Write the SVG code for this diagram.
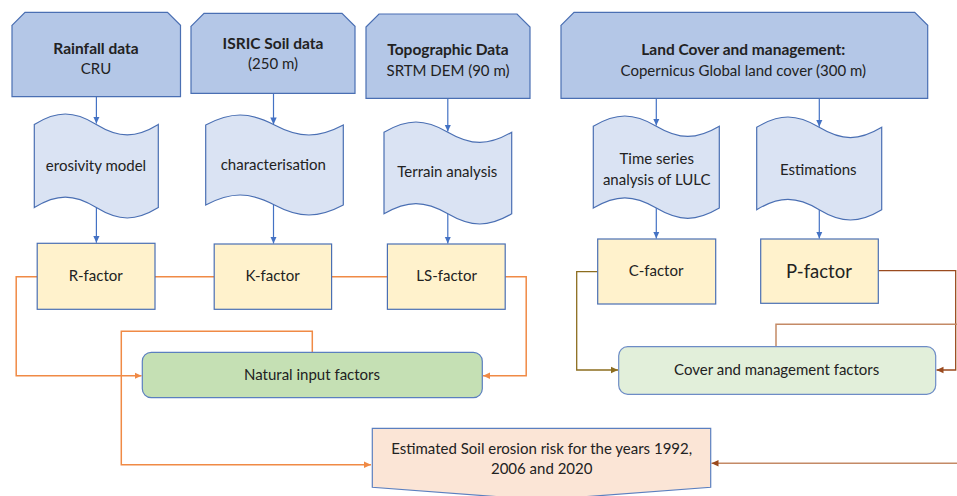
<svg xmlns="http://www.w3.org/2000/svg" width="957" height="496" viewBox="0 0 957 496">
<style>
text{font-family:Lato,"Liberation Sans",sans-serif;fill:#222;text-anchor:middle}
.t{font-size:15px}
.b{font-size:15.5px;font-weight:bold}
.src{fill:#b4c7e7;stroke:#4a6fb3;stroke-width:1.2}
.tape{fill:#dae3f3;stroke:#4a6fb3;stroke-width:1.2}
.fac{fill:#fff2cc;stroke:#4a6fb3;stroke-width:1.2}
.blue{stroke:#4472c4;stroke-width:1.2;fill:none}
.or{stroke:#f08a45;stroke-width:1.5;fill:none}
.ol{stroke:#8c6d1f;stroke-width:1.3;fill:none}
.br{stroke:#9a4a1e;stroke-width:1.3;fill:none}
.lb{stroke:#c48a66;stroke-width:1.5;fill:none}
</style>
<defs>
<marker id="ab" markerUnits="userSpaceOnUse" markerWidth="8" markerHeight="8" refX="7" refY="4" orient="auto"><path d="M0,0.8 L7,4 L0,7.2 Z" fill="#4472c4"/></marker>
<marker id="ao" markerUnits="userSpaceOnUse" markerWidth="8" markerHeight="8" refX="7" refY="4" orient="auto"><path d="M0,0.8 L7,4 L0,7.2 Z" fill="#f08a45"/></marker>
<marker id="aol" markerUnits="userSpaceOnUse" markerWidth="8" markerHeight="8" refX="7" refY="4" orient="auto"><path d="M0,0.8 L7,4 L0,7.2 Z" fill="#8c6d1f"/></marker>
<marker id="abr" markerUnits="userSpaceOnUse" markerWidth="8" markerHeight="8" refX="7" refY="4" orient="auto"><path d="M0,0.8 L7,4 L0,7.2 Z" fill="#9a4a1e"/></marker>
</defs>

<g id="connectors">
<path class="blue" d="M96.4,96.7 V123.6" marker-end="url(#ab)"/>
<path class="blue" d="M96.4,207.6 V242.8" marker-end="url(#ab)"/>
<path class="blue" d="M273.5,93.3 V124.4" marker-end="url(#ab)"/>
<path class="blue" d="M273.5,205 V243.5" marker-end="url(#ab)"/>
<path class="blue" d="M447.8,98.3 V131.6" marker-end="url(#ab)"/>
<path class="blue" d="M447.8,213.8 V243.5" marker-end="url(#ab)"/>
<path class="blue" d="M656.3,98.3 V125.6" marker-end="url(#ab)"/>
<path class="blue" d="M656.3,208.1 V238.5" marker-end="url(#ab)"/>
<path class="blue" d="M819.3,98.3 V126.7" marker-end="url(#ab)"/>
<path class="blue" d="M819.3,209.7 V238.5" marker-end="url(#ab)"/>
<path class="or" d="M155,276.7 H214.2"/>
<path class="or" d="M331.6,276.7 H387.4"/>
<path class="or" d="M37.2,276.7 H16.2 V375.7 H141.5" marker-end="url(#ao)"/>
<path class="or" d="M505.2,276.7 H526.2 V375.7 H483" marker-end="url(#ao)"/>
<path class="or" d="M312.3,352.3 V331.3 H121.3 V464.7 H371" marker-end="url(#ao)"/>
<path class="ol" d="M597.7,271.7 H576.7 V370 H618" marker-end="url(#aol)"/>
<path class="br" d="M878.3,270.7 H955.7 V370 H936.5" marker-end="url(#abr)"/>
<path class="lb" d="M776,346.7 V324.3 H957"/>
<path class="lb" d="M957,463.3 H711.5" marker-end="url(#abr)"/>
</g>

<g id="rainfall">
<polygon class="src" points="12,25.3 25,12.3 167.5,12.3 180.5,25.3 180.5,96.7 12,96.7"/>
<text class="b" x="96" y="48.3" dy="0.36em">Rainfall data</text>
<text class="t" x="96" y="69" dy="0.36em">CRU</text>
</g>
<g id="soil">
<polygon class="src" points="191,26.3 204,13.3 342,13.3 355,26.3 355,93.3 191,93.3"/>
<text class="b" x="273" y="43.3" dy="0.36em">ISRIC Soil data</text>
<text class="t" x="273" y="63.3" dy="0.36em">(250 m)</text>
</g>
<g id="topo">
<polygon class="src" points="366,27 379,14 517,14 530,27 530,98.3 366,98.3"/>
<text class="b" x="448" y="49.3" dy="0.36em">Topographic Data</text>
<text class="t" x="448" y="70.7" dy="0.36em">SRTM DEM (90 m)</text>
</g>
<g id="landcover">
<polygon class="src" points="561,25.3 574,12.3 914.7,12.3 927.7,25.3 927.7,98.3 561,98.3"/>
<text class="b" x="743.3" y="49.3" dy="0.36em">Land Cover and management:</text>
<text class="t" x="743.3" y="70.7" dy="0.36em">Copernicus Global land cover (300 m)</text>
</g>

<g id="erosivity">
<path class="tape" d="M34.3,124.4 C56.9,110.53 73.7,110.53 96.3,124.4 S135.7,138.27 158.3,124.4 L158.3,207.6 C135.7,221.47 118.9,221.47 96.3,207.6 S56.9,193.73 34.3,207.6 Z"/>
<text class="t" x="96" y="166" dy="0.36em">erosivity model</text>
</g>
<g id="characterisation">
<path class="tape" d="M205.7,125 C230.74,111.67 249.46,111.67 274.5,125 S318.26,138.33 343.3,125 L343.3,205 C318.26,218.33 299.54,218.33 274.5,205 S230.74,191.67 205.7,205 Z"/>
<text class="t" x="273.3" y="165" dy="0.36em">characterisation</text>
</g>
<g id="terrain">
<path class="tape" d="M384,132.2 C407.24,118.6 424.61,118.6 447.85,132.2 S488.46,145.8 511.7,132.2 L511.7,213.8 C488.46,227.4 471.09,227.4 447.85,213.8 S407.24,200.2 384,213.8 Z"/>
<text class="t" x="447.3" y="171.7" dy="0.36em">Terrain analysis</text>
</g>
<g id="timeseries">
<path class="tape" d="M593.3,126.2 C616.23,112.6 633.37,112.6 656.3,126.2 S696.37,139.8 719.3,126.2 L719.3,208.1 C696.37,221.7 679.23,221.7 656.3,208.1 S616.23,194.5 593.3,208.1 Z"/>
<text class="t" x="656.7" y="159" dy="0.36em">Time series</text>
<text class="t" x="656.7" y="180" dy="0.36em">analysis of LULC</text>
</g>
<g id="estimations">
<path class="tape" d="M756.7,127.3 C779.45,113.57 796.45,113.57 819.2,127.3 S858.95,141.03 881.7,127.3 L881.7,209.7 C858.95,223.43 841.95,223.43 819.2,209.7 S779.45,195.97 756.7,209.7 Z"/>
<text class="t" x="818.3" y="169.3" dy="0.36em">Estimations</text>
</g>

<g id="rfactor">
<rect class="fac" x="37.2" y="243.3" width="117.8" height="66"/>
<text class="t" x="95.7" y="275.7" dy="0.36em">R-factor</text>
</g>
<g id="kfactor">
<rect class="fac" x="214.2" y="244" width="117.4" height="65.3"/>
<text class="t" x="272.5" y="275.7" dy="0.36em">K-factor</text>
</g>
<g id="lsfactor">
<rect class="fac" x="387.4" y="244" width="117.8" height="65.3"/>
<text class="t" x="446.6" y="275.7" dy="0.36em">LS-factor</text>
</g>
<g id="cfactor">
<rect class="fac" x="597.7" y="239" width="118" height="65"/>
<text class="t" x="656" y="271" dy="0.36em">C-factor</text>
</g>
<g id="pfactor">
<rect class="fac" x="760.7" y="239" width="117.6" height="64.3"/>
<text x="819" y="271" dy="0.36em" style="font-size:18.5px">P-factor</text>
</g>

<g id="natural">
<rect x="142.3" y="352.3" width="340" height="45.4" rx="9" fill="#c5e0b4" stroke="#5b7fbf" stroke-width="1.2"/>
<text class="t" x="312" y="374.3" dy="0.36em">Natural input factors</text>
</g>
<g id="cover">
<rect x="618.7" y="346.7" width="317" height="47.6" rx="9" fill="#e2efda" stroke="#6d8cc6" stroke-width="1.2"/>
<text class="t" x="776.7" y="370" dy="0.36em">Cover and management factors</text>
</g>
<g id="estimated">
<polygon points="372.3,428.3 710.7,428.3 710.7,487.3 541.5,500 372.3,487.3" fill="#fbe5d6" stroke="#5b7fbf" stroke-width="1.2"/>
<text class="t" x="541.7" y="448.3" dy="0.36em">Estimated Soil erosion risk for the years 1992,</text>
<text class="t" x="541.7" y="468.3" dy="0.36em">2006 and 2020</text>
</g>
</svg>
